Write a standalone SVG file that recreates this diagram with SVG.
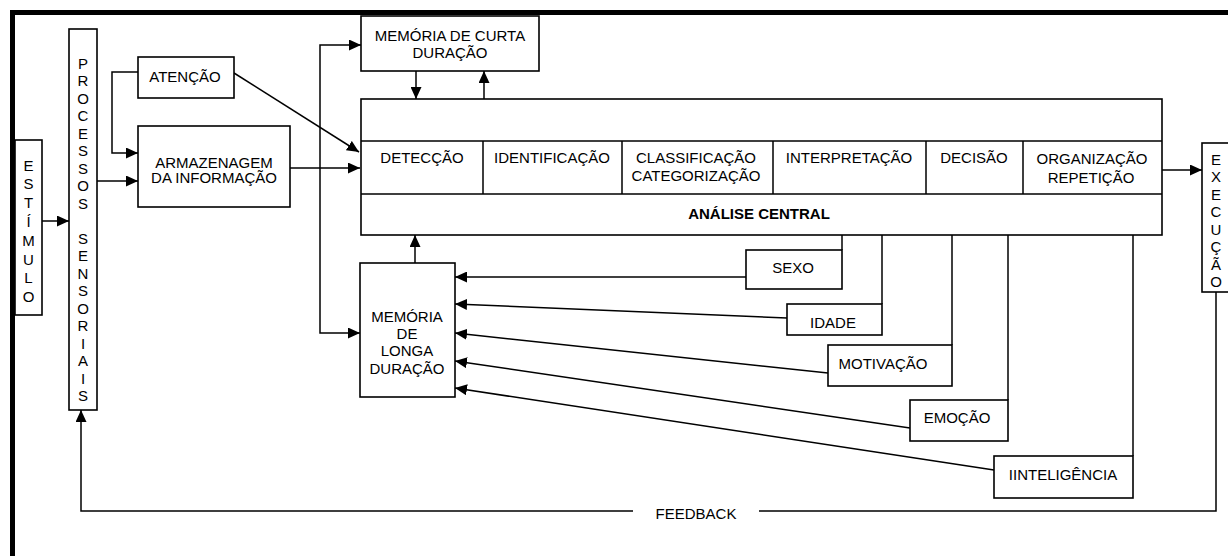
<svg xmlns="http://www.w3.org/2000/svg" width="1228" height="556" viewBox="0 0 1228 556">
  <style>
    .box { fill: #fff; stroke: #000; stroke-width: 1.6; }
    .line { fill: none; stroke: #000; stroke-width: 1.5; }
    .arrow { fill: none; stroke: #000; stroke-width: 1.5; marker-end: url(#head); }
    .t { font-family: "Liberation Sans", Arial, sans-serif; font-size: 15px; fill: #000; text-anchor: middle; }
    .b { font-weight: bold; }
  </style>
  <defs>
    <marker id="head" markerUnits="userSpaceOnUse" markerWidth="13" markerHeight="11" refX="12" refY="5.5" orient="auto">
      <path d="M0,0 L12,5.5 L0,11 z" fill="#000"/>
    </marker>
  </defs>

  <rect width="1228" height="556" fill="#fff"/>

  <!-- outer frame (top and left edges) -->
  <path d="M12.5,556 V12.5 H1228" fill="none" stroke="#000" stroke-width="5"/>

  <!-- connectors -->
  <g id="connectors">
    <path class="arrow" d="M42,221 H69"/>
    <path class="arrow" d="M97,181 H138"/>
    <path class="arrow" d="M138,72 H112 V153 H138"/>
    <path class="arrow" d="M290,168 H360"/>
    <path class="arrow" d="M234,73 L359,152"/>
    <path class="arrow" d="M320,190 V45 H361"/>
    <path class="arrow" d="M320,190 V333 H360"/>
    <path class="arrow" d="M416,71 V99"/>
    <path class="arrow" d="M484,99 V71"/>
    <path class="arrow" d="M415,263 V235"/>
    <path class="arrow" d="M1162,170 H1202"/>
    <!-- feedback loop -->
    <path class="line" d="M1216,292 V511 H759"/>
    <path class="arrow" d="M633,511 H81 V410"/>
    <!-- factors feeding long-term memory -->
    <path class="line" d="M842,235 V250"/>
    <path class="arrow" d="M746,277 H455"/>
    <path class="line" d="M882,235 V304"/>
    <path class="arrow" d="M787,318 L455,304"/>
    <path class="line" d="M952,235 V345"/>
    <path class="arrow" d="M828,373 L455,333"/>
    <path class="line" d="M1008,235 V400"/>
    <path class="arrow" d="M910,428 L455,361"/>
    <path class="line" d="M1133,235 V456"/>
    <path class="arrow" d="M994,470 L455,388"/>
  </g>

  <g id="estimulo">
    <rect class="box" x="15" y="140" width="27" height="175"/>
    <text class="t" x="28.5" y="170.5">E</text>
    <text class="t" x="28.5" y="189.3">S</text>
    <text class="t" x="28.5" y="208.1">T</text>
    <text class="t" x="28.5" y="226.9">Í</text>
    <text class="t" x="28.5" y="245.7">M</text>
    <text class="t" x="28.5" y="264.5">U</text>
    <text class="t" x="28.5" y="283.3">L</text>
    <text class="t" x="28.5" y="302.1">O</text>
  </g>

  <g id="processos-sensoriais">
    <rect class="box" x="69" y="29" width="28" height="381"/>
    <text class="t" x="83" y="68.5">P</text>
    <text class="t" x="83" y="86">R</text>
    <text class="t" x="83" y="103.5">O</text>
    <text class="t" x="83" y="121">C</text>
    <text class="t" x="83" y="138.5">E</text>
    <text class="t" x="83" y="156">S</text>
    <text class="t" x="83" y="173.5">S</text>
    <text class="t" x="83" y="191">O</text>
    <text class="t" x="83" y="208.5">S</text>
    <text class="t" x="83" y="243.5">S</text>
    <text class="t" x="83" y="261">E</text>
    <text class="t" x="83" y="278.5">N</text>
    <text class="t" x="83" y="296">S</text>
    <text class="t" x="83" y="313.5">O</text>
    <text class="t" x="83" y="331">R</text>
    <text class="t" x="83" y="348.5">I</text>
    <text class="t" x="83" y="366">A</text>
    <text class="t" x="83" y="383.5">I</text>
    <text class="t" x="83" y="401">S</text>
  </g>

  <g id="atencao">
    <rect class="box" x="138" y="57" width="96" height="41"/>
    <text class="t" x="185" y="81.5">ATENÇÃO</text>
  </g>

  <g id="armazenagem">
    <rect class="box" x="138" y="126" width="152" height="81"/>
    <text class="t" x="214" y="167.5">ARMAZENAGEM</text>
    <text class="t" x="214" y="183">DA INFORMAÇÃO</text>
  </g>

  <g id="memoria-curta">
    <rect class="box" x="361" y="16" width="178" height="55"/>
    <text class="t" x="450" y="40.5">MEMÓRIA DE CURTA</text>
    <text class="t" x="450" y="57.5">DURAÇÃO</text>
  </g>

  <g id="analise-central">
    <rect class="box" x="361" y="99" width="801" height="136"/>
    <path class="line" d="M361,141 H1162 M361,194 H1162 M483,141 V194 M622,141 V194 M773,141 V194 M926,141 V194 M1023,141 V194"/>
    <text class="t" x="422" y="162.5">DETECÇÃO</text>
    <text class="t" x="552" y="162.5">IDENTIFICAÇÃO</text>
    <text class="t" x="696" y="162.5">CLASSIFICAÇÃO</text>
    <text class="t" x="696" y="181">CATEGORIZAÇÃO</text>
    <text class="t" x="849" y="163">INTERPRETAÇÃO</text>
    <text class="t" x="974" y="163">DECISÃO</text>
    <text class="t" x="1092" y="164">ORGANIZAÇÃO</text>
    <text class="t" x="1091" y="182.5">REPETIÇÃO</text>
    <text class="t b" x="759" y="218.5">ANÁLISE CENTRAL</text>
  </g>

  <g id="execucao">
    <rect class="box" x="1202" y="143" width="32" height="149"/>
    <text class="t" x="1216" y="164.5">E</text>
    <text class="t" x="1216" y="182">X</text>
    <text class="t" x="1216" y="199.5">E</text>
    <text class="t" x="1216" y="217">C</text>
    <text class="t" x="1216" y="234.5">U</text>
    <text class="t" x="1216" y="252">Ç</text>
    <text class="t" x="1216" y="269.5">Ã</text>
    <text class="t" x="1216" y="287">O</text>
  </g>

  <g id="memoria-longa">
    <rect class="box" x="360" y="263" width="95" height="134"/>
    <text class="t" x="407" y="321.5">MEMÓRIA</text>
    <text class="t" x="407" y="338.5">DE</text>
    <text class="t" x="407" y="356">LONGA</text>
    <text class="t" x="407" y="373.5">DURAÇÃO</text>
  </g>

  <g id="sexo">
    <rect class="box" x="746" y="250" width="96" height="39"/>
    <text class="t" x="793" y="272.5">SEXO</text>
  </g>

  <g id="idade">
    <rect class="box" x="787" y="304" width="95" height="31"/>
    <text class="t" x="833" y="327.5">IDADE</text>
  </g>

  <g id="motivacao">
    <rect class="box" x="828" y="345" width="124" height="41"/>
    <text class="t" x="883" y="368.5">MOTIVAÇÃO</text>
  </g>

  <g id="emocao">
    <rect class="box" x="910" y="400" width="98" height="41"/>
    <text class="t" x="957" y="422.5">EMOÇÃO</text>
  </g>

  <g id="inteligencia">
    <rect class="box" x="994" y="456" width="139" height="42"/>
    <text class="t" x="1063" y="479.5">IINTELIGÊNCIA</text>
  </g>

  <g id="feedback-label">
    <text class="t" x="696" y="518.5">FEEDBACK</text>
  </g>
</svg>
